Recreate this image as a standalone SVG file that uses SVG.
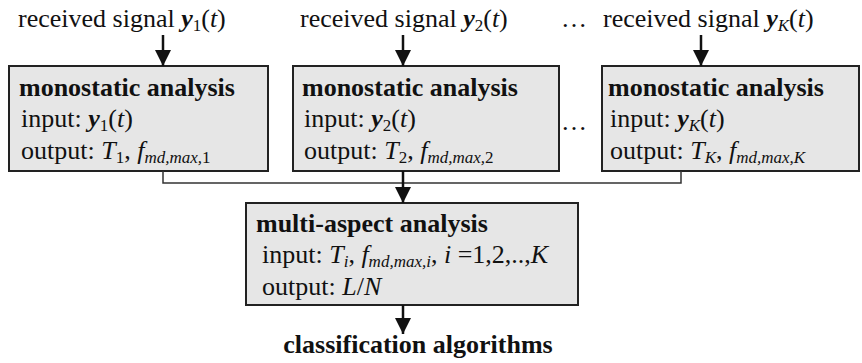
<svg xmlns="http://www.w3.org/2000/svg" width="862" height="363" viewBox="0 0 862 363">
<style>
text{font-family:'Liberation Serif','Times New Roman',Tinos,'DejaVu Serif',serif;font-size:26px;fill:#111}
.b{font-weight:bold}
.i{font-style:italic}
.bi{font-weight:bold;font-style:italic}
.s{font-size:17px}
.box{fill:#e6e6e6;stroke:#222;stroke-width:2}
.arr{stroke:#111;stroke-width:2.5;fill:none}
.bus{stroke:#333;stroke-width:1.5;fill:none}
</style>
<defs>
<marker id="ah" markerWidth="16" markerHeight="16" refX="16" refY="8" orient="auto" markerUnits="userSpaceOnUse">
<path d="M0,0 L16,8 L0,16 Z" fill="#111"/>
</marker>
</defs>
<rect width="862" height="363" fill="#fff"/>
<g id="labels">
<text x="18" y="27">received signal <tspan class="bi">y</tspan><tspan class="s" dy="4">1</tspan><tspan dy="-4">(</tspan><tspan class="i">t</tspan>)</text>
<text x="300" y="27">received signal <tspan class="bi">y</tspan><tspan class="s" dy="4">2</tspan><tspan dy="-4">(</tspan><tspan class="i">t</tspan>)</text>
<text x="561" y="27">…</text>
<text x="603" y="27">received signal <tspan class="bi">y</tspan><tspan class="s i" dy="4">K</tspan><tspan dy="-4">(</tspan><tspan class="i">t</tspan>)</text>
<text x="561" y="130">…</text>
</g>
<g id="box1">
<rect class="box" x="9" y="66" width="259" height="105"/>
<text class="b" x="19" y="96">monostatic analysis</text>
<text x="21" y="127">input: <tspan class="bi">y</tspan><tspan class="s" dy="4">1</tspan><tspan dy="-4">(</tspan><tspan class="i">t</tspan>)</text>
<text x="21" y="159">output: <tspan class="i">T</tspan><tspan class="s" dy="4">1</tspan><tspan dy="-4">, </tspan><tspan class="i">f</tspan><tspan class="s i" dy="4">md,max,</tspan><tspan class="s">1</tspan></text>
</g>
<g id="box2">
<rect class="box" x="293" y="66" width="266" height="105"/>
<text class="b" x="302" y="96">monostatic analysis</text>
<text x="304" y="127">input: <tspan class="bi">y</tspan><tspan class="s" dy="4">2</tspan><tspan dy="-4">(</tspan><tspan class="i">t</tspan>)</text>
<text x="304" y="159">output: <tspan class="i">T</tspan><tspan class="s" dy="4">2</tspan><tspan dy="-4">, </tspan><tspan class="i">f</tspan><tspan class="s i" dy="4">md,max,</tspan><tspan class="s">2</tspan></text>
</g>
<g id="box3">
<rect class="box" x="602" y="66" width="257" height="105"/>
<text class="b" x="608" y="96">monostatic analysis</text>
<text x="610" y="127">input: <tspan class="bi">y</tspan><tspan class="s i" dy="4">K</tspan><tspan dy="-4">(</tspan><tspan class="i">t</tspan>)</text>
<text x="610" y="159">output: <tspan class="i">T</tspan><tspan class="s i" dy="4">K</tspan><tspan dy="-4">, </tspan><tspan class="i">f</tspan><tspan class="s i" dy="4">md,max,K</tspan></text>
</g>
<g id="multi">
<rect class="box" x="246" y="203" width="332" height="102"/>
<text class="b" x="256" y="232">multi-aspect analysis</text>
<text x="262" y="263">input: <tspan class="i">T</tspan><tspan class="s i" dy="4">i</tspan><tspan dy="-4">, </tspan><tspan class="i">f</tspan><tspan class="s i" dy="4">md,max,i</tspan><tspan dy="-4">, </tspan><tspan class="i">i</tspan> =1,2,..,<tspan class="i">K</tspan></text>
<text x="262" y="295">output: <tspan class="i">L</tspan>/<tspan class="i">N</tspan></text>
</g>
<g id="output">
<text class="b" x="418" y="353" text-anchor="middle">classification algorithms</text>
</g>
<g id="connectors">
<line class="arr" x1="163" y1="35" x2="163" y2="66" marker-end="url(#ah)"/>
<line class="arr" x1="403" y1="35" x2="403" y2="66" marker-end="url(#ah)"/>
<line class="arr" x1="701" y1="35" x2="701" y2="66" marker-end="url(#ah)"/>
<polyline class="bus" points="163,171 163,183 681,183 681,171"/>
<line class="arr" x1="403" y1="171" x2="403" y2="203" marker-end="url(#ah)"/>
<line class="arr" x1="403" y1="305" x2="403" y2="334" marker-end="url(#ah)"/>
</g>
</svg>
